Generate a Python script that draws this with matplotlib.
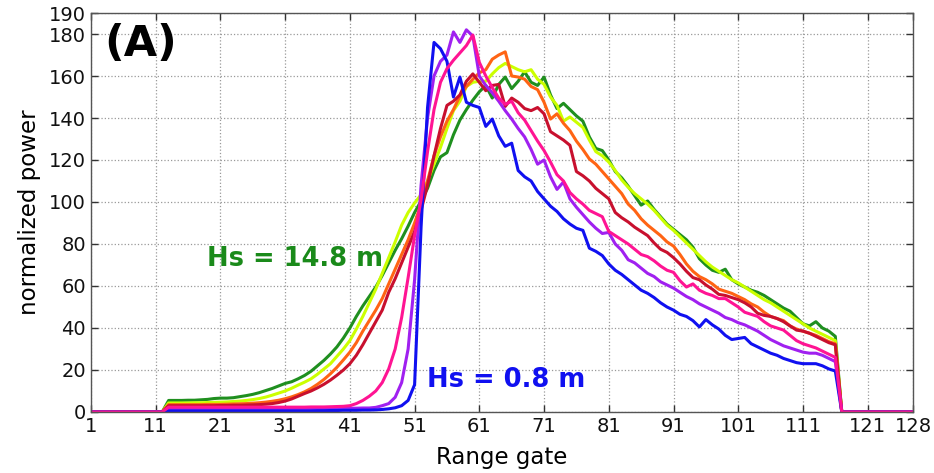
import matplotlib
matplotlib.use("Agg")
import matplotlib.pyplot as plt

# Range gates 1..128
gates = list(range(1, 129))

# Normalized power per waveform (gates 1..128)
hs_14_8 = [0, 0, 0, 0, 0, 0, 0, 0, 0, 0, 0, 0,
           5.5, 5.5, 5.5, 5.6, 5.6, 5.8, 6.0, 6.4, 6.6, 6.6, 6.8, 7.3, 7.8, 8.4, 9.2, 10.2, 11.2, 12.4,
           13.6, 14.4, 15.8, 17.4, 19.4, 22.0, 24.6, 27.6, 31.0, 35.2, 40.0, 45.5, 50.5, 55.0, 59.5, 65.0,
           71.0, 77.0, 82.5, 88.5, 95.0, 100.5, 106.5, 115.0, 121.5, 123.5, 132.0, 139.0, 144.0, 148.5,
           152.5, 155.5, 149.5, 156.0, 159.5, 154.0, 157.5, 162.0, 157.0, 155.5, 159.5, 151.0, 144.5, 147.0,
           144.0, 141.0, 138.5, 131.0, 125.5, 124.5, 120.0, 114.5, 111.5, 107.5, 103.0, 98.5, 100.5, 96.5,
           93.0, 89.5, 87.0, 84.5, 82.0, 78.5, 73.0, 70.0, 67.5, 66.5, 68.0, 63.0, 61.0, 59.5, 58.0, 57.0,
           55.5, 53.5, 51.5, 49.5, 48.0, 45.0, 42.0, 41.0, 43.0, 40.0, 38.5, 36.0,
           0, 0, 0, 0, 0, 0, 0, 0, 0, 0, 0, 0]

hs_yellow = [0, 0, 0, 0, 0, 0, 0, 0, 0, 0, 0, 0,
             4.3, 4.3, 4.3, 4.3, 4.4, 4.4, 4.5, 4.6, 4.7, 4.8, 5.0, 5.2, 5.5, 5.9, 6.4, 7.1, 8.0, 9.0,
             10.0, 11.3, 12.8, 14.2, 15.8, 18.0, 20.5, 23.0, 26.5, 30.0, 34.0, 39.5, 45.5, 52.0, 58.5, 66.0,
             73.5, 81.0, 89.0, 95.0, 99.5, 103.5, 110.0, 118.0, 126.0, 135.0, 143.5, 148.0, 155.0, 157.0,
             157.5, 157.5, 161.0, 164.0, 166.0, 164.5, 163.0, 162.0, 163.0, 158.5, 156.0, 150.0, 146.0, 138.5,
             140.5, 138.0, 135.5, 129.5, 124.0, 122.0, 119.0, 115.0, 110.5, 107.0, 104.0, 101.5, 99.0, 96.0,
             92.5, 89.0, 86.5, 83.5, 80.5, 77.5, 74.5, 71.5, 69.0, 67.0, 65.0, 63.0, 61.5, 59.5, 57.5, 55.5,
             53.5, 52.0, 50.0, 48.0, 46.0, 44.0, 42.0, 40.0, 38.5, 37.0, 35.5, 34.0,
             0, 0, 0, 0, 0, 0, 0, 0, 0, 0, 0, 0]

hs_orange = [0, 0, 0, 0, 0, 0, 0, 0, 0, 0, 0, 0,
             3.5, 3.5, 3.5, 3.5, 3.5, 3.5, 3.6, 3.6, 3.6, 3.7, 3.8, 3.9, 4.0, 4.2, 4.4, 4.7, 5.1, 5.6,
             6.3, 7.2, 8.3, 9.6, 11.2, 13.2, 15.5, 18.2, 21.3, 24.8, 28.5, 33.0, 38.5, 43.5, 48.5, 54.0,
             61.0, 68.0, 75.0, 82.0, 90.0, 99.0, 110.0, 122.0, 131.0, 138.5, 144.0, 150.5, 155.0, 158.5,
             161.5, 163.0, 168.0, 170.0, 171.5, 160.0, 159.5, 158.5, 155.0, 153.5, 147.5, 139.5, 142.0, 137.5,
             134.0, 129.0, 125.0, 120.5, 118.0, 114.5, 111.0, 107.5, 104.0, 99.0, 96.0, 92.0, 89.0, 86.5,
             84.0, 81.0, 79.0, 75.0, 70.5, 67.0, 64.5, 63.0, 61.0, 58.5, 57.5, 56.5, 55.0, 53.5, 51.5, 50.0,
             47.5, 45.5, 44.5, 43.5, 41.0, 39.5, 38.5, 37.5, 36.5, 35.0, 33.5, 32.5,
             0, 0, 0, 0, 0, 0, 0, 0, 0, 0, 0, 0]

hs_red = [0, 0, 0, 0, 0, 0, 0, 0, 0, 0, 0, 0,
          3.0, 3.0, 3.0, 3.0, 3.0, 3.0, 3.0, 3.0, 3.1, 3.1, 3.2, 3.2, 3.3, 3.4, 3.5, 3.7, 4.0, 4.5,
          5.2, 6.2, 7.5, 8.8, 10.0, 11.5, 13.2, 15.2, 17.5, 20.0, 23.0, 27.0, 32.0, 37.5, 43.0, 48.5,
          57.0, 63.5, 71.0, 78.5, 86.0, 96.0, 108.0, 122.0, 135.0, 146.0, 148.0, 151.0, 157.5, 161.0,
          157.0, 153.0, 155.5, 156.0, 145.5, 149.5, 147.5, 144.5, 143.5, 145.0, 142.0, 133.5, 131.5, 129.5,
          127.0, 114.5, 112.5, 110.0, 106.5, 104.0, 101.5, 95.0, 92.5, 90.5, 88.0, 86.0, 84.0, 80.5,
          77.5, 76.0, 73.5, 70.5, 67.0, 64.0, 63.0, 60.5, 58.5, 56.0, 55.5, 54.5, 53.5, 52.0, 50.0, 47.0,
          46.0, 45.5, 44.5, 43.0, 41.0, 39.0, 38.5, 37.5, 36.0, 34.5, 33.0, 32.0,
          0, 0, 0, 0, 0, 0, 0, 0, 0, 0, 0, 0]

hs_purple = [0, 0, 0, 0, 0, 0, 0, 0, 0, 0, 0, 0,
             1.5, 1.5, 1.5, 1.5, 1.5, 1.5, 1.5, 1.5, 1.5, 1.5, 1.5, 1.5, 1.5, 1.5, 1.5, 1.5, 1.5, 1.5,
             1.5, 1.5, 1.5, 1.5, 1.5, 1.6, 1.6, 1.6, 1.7, 1.7, 1.8, 1.8, 1.9, 1.9, 2.2, 3.0,
             4.0, 7.0, 14.0, 30.0, 63.0, 108.0, 140.0, 160.0, 167.0, 170.0, 181.0, 176.0, 182.0, 179.0,
             160.0, 155.5, 152.0, 148.0, 143.5, 139.5, 135.0, 131.0, 125.0, 118.0, 120.0, 112.0, 106.0, 109.5,
             101.5, 97.5, 94.0, 90.5, 87.5, 85.0, 85.5, 80.0, 77.0, 72.5, 71.0, 68.5, 66.0, 64.5,
             62.0, 60.5, 59.0, 57.0, 55.0, 53.5, 51.5, 50.0, 48.5, 47.0, 45.0, 44.0, 42.5, 41.5, 40.0, 38.5,
             36.5, 34.5, 33.0, 31.5, 30.5, 29.5, 28.5, 28.0, 28.0, 27.0, 25.5, 24.0,
             0, 0, 0, 0, 0, 0, 0, 0, 0, 0, 0, 0]

hs_0_8 = [0, 0, 0, 0, 0, 0, 0, 0, 0, 0, 0, 0,
          0.5, 0.5, 0.5, 0.5, 0.5, 0.5, 0.5, 0.5, 0.5, 0.5, 0.5, 0.5, 0.5, 0.5, 0.5, 0.5, 0.5, 0.5,
          0.5, 0.5, 0.5, 0.5, 0.5, 0.6, 0.6, 0.7, 0.7, 0.8, 0.8, 0.8, 0.9, 0.9, 1.0, 1.2,
          1.5, 2.0, 3.0, 5.5, 13.0, 88.0, 145.0, 176.0, 173.0, 167.0, 150.0, 159.5, 147.5, 146.0,
          145.0, 136.0, 139.5, 131.5, 126.5, 128.0, 115.0, 112.0, 110.0, 105.0, 101.5, 98.0, 95.5, 92.0,
          89.5, 87.5, 86.5, 78.0, 76.5, 74.5, 70.5, 67.5, 65.5, 63.0, 60.5, 58.0, 56.5, 54.5,
          52.0, 50.0, 48.5, 46.5, 45.5, 43.5, 40.5, 44.0, 41.5, 39.5, 36.5, 34.5, 35.0, 35.5, 32.5, 31.0,
          29.5, 28.0, 27.0, 25.5, 24.5, 23.5, 23.0, 23.0, 23.0, 22.0, 20.5, 19.5,
          0, 0, 0, 0, 0, 0, 0, 0, 0, 0, 0, 0]

hs_pink = [0, 0, 0, 0, 0, 0, 0, 0, 0, 0, 0, 0,
           2.3, 2.3, 2.3, 2.3, 2.3, 2.3, 2.3, 2.3, 2.3, 2.3, 2.3, 2.3, 2.3, 2.3, 2.3, 2.3, 2.3, 2.3,
           2.3, 2.3, 2.3, 2.3, 2.4, 2.4, 2.4, 2.5, 2.6, 2.7, 3.0, 4.0, 5.5, 7.5, 10.0, 14.0,
           20.5, 30.0, 45.0, 64.0, 84.0, 101.0, 124.0, 144.0, 157.0, 163.5, 167.5, 171.0, 174.5, 179.5,
           166.5, 160.0, 154.5, 149.5, 146.5, 148.0, 142.5, 139.0, 134.0, 129.0, 124.5, 119.0, 113.0, 110.0,
           104.5, 101.5, 99.0, 96.0, 94.5, 93.0, 86.0, 84.0, 82.0, 80.0, 77.5, 75.0, 74.0, 72.0,
           69.5, 67.5, 66.5, 62.5, 59.5, 61.0, 58.0, 56.5, 55.5, 54.0, 54.0, 52.0, 50.0, 47.5, 46.5, 45.5,
           43.0, 41.0, 40.0, 39.0, 36.5, 34.0, 32.5, 31.5, 30.5, 29.0, 27.5, 26.0,
           0, 0, 0, 0, 0, 0, 0, 0, 0, 0, 0, 0]

# draw order: last one ends up on top of the zero baseline
series = [
    (hs_14_8, "#1f8f1f"),
    (hs_yellow, "#ccff00"),
    (hs_orange, "#ff6414"),
    (hs_red, "#c8102e"),
    (hs_purple, "#a020f0"),
    (hs_0_8, "#1010f0"),
    (hs_pink, "#ff1493"),
]

x_ticks = [1, 11, 21, 31, 41, 51, 61, 71, 81, 91, 101, 111, 121, 128]
y_ticks = [0, 20, 40, 60, 80, 100, 120, 140, 160, 180, 190]


def plot_waveforms():
    fig = plt.figure(figsize=(9.34, 4.73), dpi=100)
    ax = fig.add_axes([0.0974, 0.129, 0.8801, 0.8435])

    for values, color in series:
        ax.plot(gates, values, color=color, linewidth=2.2)

    ax.set_xlim(1, 128)
    ax.set_ylim(0, 190)
    ax.set_xticks(x_ticks)
    ax.set_yticks(y_ticks)
    ax.tick_params(direction="in", top=True, right=True, length=5, width=1,
                   labelsize=14, colors="#333333", labelcolor="#111111")
    ax.grid(True, linestyle=":", color="#999999", linewidth=0.9)
    for spine in ax.spines.values():
        spine.set_color("#555555")
        spine.set_linewidth(1.0)

    ax.set_xlabel("Range gate", fontsize=16.5, labelpad=7)
    ax.set_ylabel("normalized power", fontsize=16.5, labelpad=6)

    ax.text(0.016, 0.975, "(A)", transform=ax.transAxes, fontsize=31,
            fontweight="bold", ha="left", va="top")
    ax.text(19, 73, "Hs = 14.8 m", color="#1a8a1a", fontsize=18.5,
            fontweight="bold", ha="left", va="center")
    ax.text(52.9, 15.2, "Hs = 0.8 m", color="#1010f0", fontsize=18.5,
            fontweight="bold", ha="left", va="center")

    fig.savefig("out.png", dpi=100)


plot_waveforms()
